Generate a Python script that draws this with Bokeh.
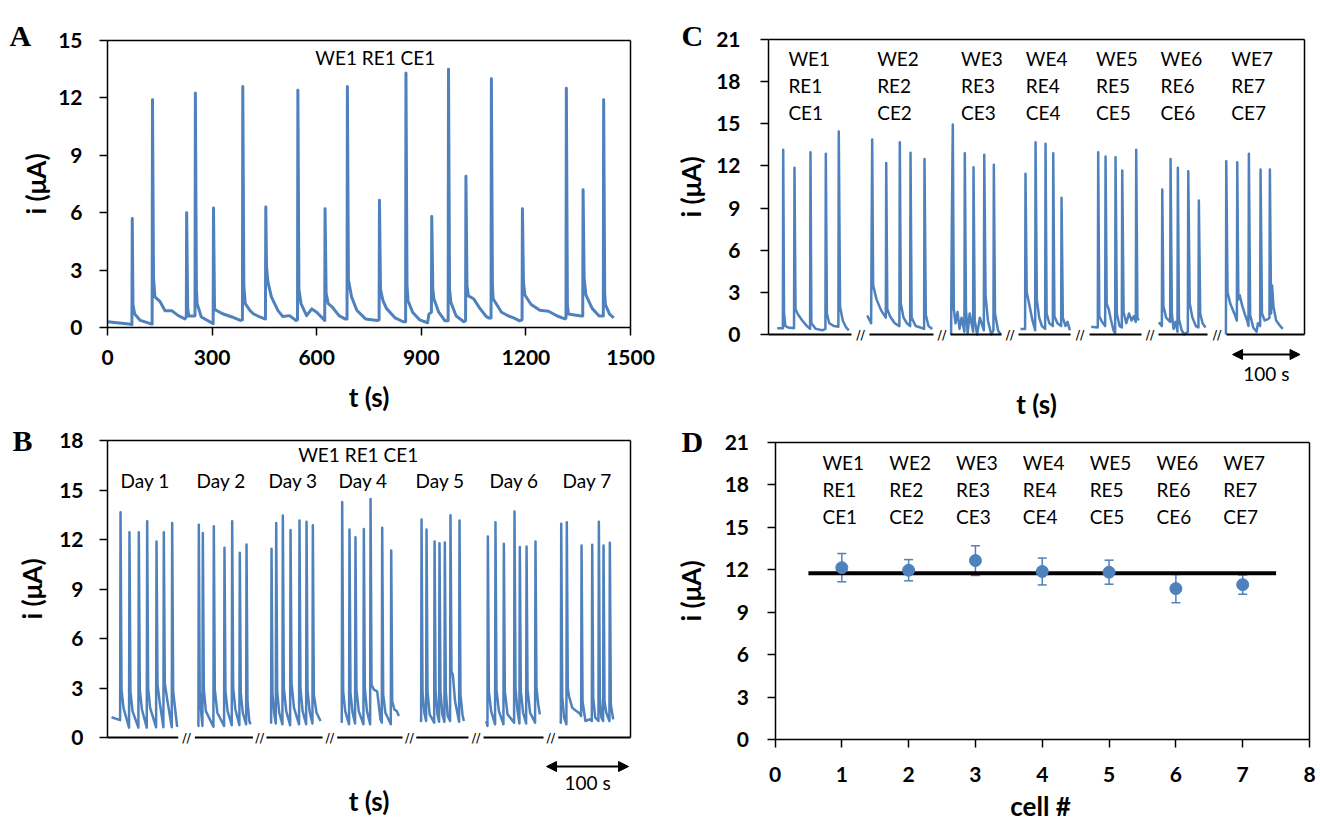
import math
from bokeh.plotting import figure
from bokeh.models import (Range1d, FixedTicker, LinearAxis, Arrow, NormalHead, Whisker, TeeHead,
                          ColumnDataSource)
from bokeh.layouts import row, column
from bokeh.embed import file_html
from bokeh.resources import INLINE
from bokeh.core.properties import value

BLUE = "#4f81bd"
FONT = "Lato"
SERIF = "Liberation Serif"

# ---------------- Panel A : single cell, continuous record ----------------
A_t = [0, 68, 70, 71, 73, 78, 94, 123, 128, 129, 132, 136, 151, 165, 184, 203, 222, 226, 227, 230, 233, 250,
       251, 252, 255, 257, 269, 303, 304, 307, 330, 357, 381, 387, 388, 391, 395, 409, 418, 437, 451,
       453, 454, 456, 460, 470, 489, 503, 522, 541, 545, 546, 549, 555, 571, 586, 600, 623, 624, 627, 633,
       645, 664, 681, 687, 688, 691, 700, 715, 740, 775, 779, 780, 783, 790, 800, 825, 848, 855, 856,
       859, 862, 875, 895, 918, 922, 929, 930, 933, 936, 950, 968, 977, 978, 981, 985, 1000, 1022,
       1027, 1028, 1031, 1035, 1050, 1068, 1085, 1093, 1100, 1101, 1104, 1106, 1130, 1150, 1165, 1182,
       1189, 1190, 1193, 1197, 1215, 1240, 1265, 1290, 1312, 1315, 1316, 1319, 1322, 1358, 1363, 1364,
       1367, 1372, 1390, 1410, 1422, 1423, 1426, 1428, 1440, 1452]
A_i = [0.30, 0.17, 0.15, 5.7, 1.2, 0.71, 0.37, 0.2, 0.18, 11.9, 2.6, 1.6, 1.35, 0.88, 0.88, 0.62, 0.45, 0.55, 6.0, 1.0,
       0.6, 0.6, 0.62, 12.25, 2.0, 1.25, 0.55, 0.2, 6.25, 0.95, 0.72, 0.55, 0.37, 0.4, 12.6, 2.2, 1.25, 0.88,
       0.72, 0.55, 0.45, 0.45, 6.3, 3.2, 2.4, 1.6, 0.88, 0.57, 0.62, 0.37, 0.4, 12.4, 2.0, 1.25, 0.62, 0.97,
       0.8, 0.37, 6.2, 1.8, 1.25, 1.06, 0.62, 0.45, 0.45, 12.6, 2.5, 1.6, 0.9, 0.45, 0.37, 0.4, 6.65, 2.0,
       1.4, 1.0, 0.5, 0.3, 0.3, 13.3, 2.2, 1.4, 0.8, 0.4, 0.25, 0.7, 0.8, 5.8, 2.0, 1.5, 0.8, 0.35, 0.35,
       13.5, 2.0, 1.3, 0.6, 0.3, 0.35, 7.9, 2.2, 1.65, 1.5, 1.0, 0.6, 0.5, 0.5, 13.0, 2.2, 1.5, 0.8,
       0.6, 0.5, 0.35, 0.4, 6.2, 2.4, 1.7, 1.2, 0.9, 0.85, 0.6, 0.45, 0.5, 12.5, 1.2, 0.7, 0.6, 0.6, 7.2,
       2.6, 1.7, 1.0, 0.6, 0.6, 11.9, 1.8, 1.2, 0.7, 0.5]

# ---------------- Panel B : same cell over 7 days (time axis broken) ----------------
day_names = ["Day 1", "Day 2", "Day 3", "Day 4", "Day 5", "Day 6", "Day 7"]
B_d1_t = [4.9, 15.4, 15.9, 17.1, 19.5, 26.3, 26.8, 28.0, 30.5, 37.7, 38.2, 39.4, 42.0, 47.9, 48.4, 49.6, 52.0,
          59.3, 59.8, 61.0, 63.5, 68.2, 68.7, 69.9, 72.5, 78.4, 78.9, 80.1, 83.0, 85.0]
B_d1_i = [1.23, 1.05, 13.65, 2.9, 1.8, 0.6, 12.44, 2.8, 1.6, 0.6, 12.44, 2.9, 1.7, 0.6, 13.1, 3.0, 1.8,
          0.62, 11.88, 3.2, 2.2, 0.62, 12.44, 3.3, 2.4, 0.62, 13.0, 2.8, 1.5, 0.65]
B_d2_t = [110.2, 110.9, 111.4, 112.5, 114.5, 115.8, 116.3, 117.5, 120.0, 129.2, 129.7, 130.9, 134.0, 142.2,
          142.7, 143.9, 146.5, 151.6, 152.1, 153.3, 156.0, 160.9, 161.4, 162.6, 165.0, 169.1, 169.6, 170.8,
          173.0, 174.5]
B_d2_i = [0.66, 0.7, 12.9, 2.8, 1.4, 0.7, 12.4, 2.9, 1.6, 0.65, 12.8, 2.9, 1.5, 0.7, 11.5, 2.8, 1.6, 0.75,
          13.1, 3.0, 1.7, 0.75, 11.2, 2.7, 1.5, 0.8, 11.7, 2.2, 1.0, 0.8]
B_d3_t = [198.9, 199.6, 200.1, 201.3, 203.5, 205.3, 205.8, 207.0, 209.5, 213.4, 213.9, 215.1, 218.0, 222.8,
          223.3, 224.5, 227.5, 233.7, 234.2, 235.4, 238.0, 242.3, 242.8, 244.0, 246.5, 250.0, 250.5, 251.7,
          255.0, 259.9]
B_d3_i = [0.85, 0.9, 11.44, 2.6, 1.4, 0.85, 13.0, 2.8, 1.5, 0.8, 13.45, 3.0, 1.6, 0.75, 12.58, 3.3, 1.8,
          0.8, 13.15, 3.0, 1.6, 0.8, 13.08, 2.9, 1.6, 0.85, 12.86, 2.6, 1.5, 1.0]
B_d4_t = [284.3, 285.8, 286.3, 287.5, 290.0, 294.7, 295.2, 296.4, 299.0, 302.0, 302.5, 303.7, 306.5, 312.2,
          312.7, 313.9, 316.5, 320.4, 320.9, 322.1, 325.0, 329.0, 333.0, 334.6, 335.1, 336.3, 339.0, 345.6,
          346.1, 347.3, 350.0, 353.0, 355.4]
B_d4_i = [0.95, 0.95, 14.27, 2.8, 1.6, 0.8, 12.6, 2.7, 1.5, 0.85, 12.13, 2.9, 1.6, 0.8, 12.64, 3.0, 1.6,
          0.8, 14.46, 3.2, 2.9, 2.8, 1.1, 0.9, 12.71, 2.6, 1.5, 0.8, 11.33, 2.2, 1.7, 1.6, 1.3]
B_d5_t = [381.0, 382.6, 383.1, 384.3, 386.5, 388.7, 389.2, 390.4, 393.0, 398.5, 399.0, 400.2, 402.5, 404.5,
          405.0, 406.2, 408.5, 411.0, 411.5, 412.7, 415.0, 417.9, 418.4, 419.6, 421.3, 424.0, 428.9, 429.4,
          430.6, 433.0, 434.7]
B_d5_i = [1.0, 1.0, 13.21, 2.7, 1.5, 1.0, 12.6, 2.8, 1.4, 0.9, 11.88, 2.8, 1.4, 0.95, 11.78, 2.8, 1.4, 0.95,
          11.82, 2.8, 1.3, 1.0, 13.47, 4.0, 3.8, 2.2, 0.95, 13.15, 2.6, 1.4, 1.0]
B_d6_t = [462.0, 463.5, 464.0, 465.2, 468.0, 472.8, 473.3, 474.5, 477.5, 483.0, 483.5, 484.7, 488.0, 496.0,
          496.5, 497.7, 500.0, 502.5, 503.0, 504.2, 507.0, 510.7, 511.2, 512.4, 515.5, 521.6, 522.1, 523.3,
          525.5, 527.4]
B_d6_i = [1.0, 0.7, 12.18, 2.8, 1.6, 0.8, 13.05, 2.9, 1.6, 0.8, 11.74, 2.8, 1.4, 0.9, 13.69, 3.0, 1.7, 0.85,
          11.54, 2.8, 1.5, 0.85, 11.58, 2.9, 1.5, 0.9, 11.88, 3.0, 2.0, 1.4]
B_d7_t = [552.6, 553.0, 553.5, 554.7, 557.0, 559.8, 560.3, 561.5, 563.0, 567.0, 572.0, 576.0, 577.8, 578.3,
          579.5, 583.0, 588.0, 590.8, 591.3, 592.5, 595.0, 598.9, 599.4, 600.6, 602.5, 604.6, 605.1, 606.3,
          608.5, 612.3, 612.8, 614.0, 616.9]
B_d7_i = [1.0, 0.9, 12.95, 2.5, 1.2, 0.8, 13.05, 3.0, 2.5, 1.8, 1.6, 1.45, 1.3, 11.64, 2.2, 1.0, 1.1, 1.0,
          11.68, 2.4, 1.2, 1.0, 13.08, 2.4, 1.2, 1.0, 11.64, 2.2, 1.5, 1.0, 11.8, 2.0, 1.1]
B_days_t = [B_d1_t, B_d2_t, B_d3_t, B_d4_t, B_d5_t, B_d6_t, B_d7_t]
B_days_i = [B_d1_i, B_d2_i, B_d3_i, B_d4_i, B_d5_i, B_d6_i, B_d7_i]

# ---------------- Panel C : seven cells (time axis broken) ----------------
C_w1_t = [12.9, 21.3, 21.8, 23.0, 25.0, 29.0, 37.8, 38.5, 40.0, 44.0, 50.0, 57.0, 61.6, 62.2, 63.5, 70.0, 80.0,
          84.3, 84.9, 86.5, 90.0, 97.0, 103.5, 104.1, 106.0, 110.0, 115.0, 119.0]
C_w1_i = [0.45, 0.45, 13.15, 1.5, 0.6, 0.5, 0.45, 11.87, 1.8, 1.4, 1.0, 0.6, 0.4, 12.98, 0.8, 0.4, 0.3,
          0.4, 12.86, 1.5, 0.8, 0.6, 0.55, 14.45, 2.0, 1.0, 0.5, 0.3]
C_w2_t = [146.2, 152.0, 153.6, 155.0, 160.0, 167.0, 173.8, 174.4, 176.0, 180.0, 187.0, 193.9, 194.5, 196.0,
          200.0, 205.0, 209.8, 210.4, 212.0, 218.0, 225.0, 230.5, 231.1, 233.0, 237.0, 242.5]
C_w2_i = [1.35, 0.8, 13.88, 3.5, 2.5, 1.7, 1.2, 12.2, 1.8, 1.3, 0.8, 0.6, 13.69, 2.2, 1.2, 0.8, 0.6, 12.93,
          1.2, 0.6, 0.5, 0.4, 12.5, 1.4, 0.6, 0.4]
C_w3_t = [270.5, 271.5, 273.0, 274.5, 277.0, 280.0, 283.0, 286.0, 290.2, 290.8, 292.5, 295.0, 298.0, 303.1,
          303.7, 305.5, 309.0, 313.0, 319.0, 319.6, 321.5, 325.0, 330.0, 333.2, 333.8, 335.5, 340.0, 343.7]
C_w3_i = [0.0, 7.4, 14.95, 1.8, 0.8, 1.6, 0.4, 1.2, 0.2, 12.9, 1.8, 0.1, 1.5, 0.2, 11.91, 1.0, 0.0, 1.2,
          0.3, 12.8, 2.8, 1.0, 0.0, 0.3, 12.08, 1.5, 0.3, 0.0]
C_w4_t = [373.3, 380.1, 380.7, 382.5, 386.0, 391.0, 395.0, 395.6, 397.5, 401.0, 405.0, 409.8, 410.4, 412.0,
          416.0, 421.2, 421.8, 423.5, 428.0, 433.5, 434.1, 436.0, 440.0, 443.0, 446.4]
C_w4_i = [0.4, 0.4, 11.44, 3.0, 2.2, 1.0, 0.3, 13.69, 2.5, 1.2, 0.6, 0.4, 13.57, 1.5, 0.8, 0.6, 12.91, 1.3,
          0.8, 0.6, 9.73, 1.2, 0.6, 0.9, 0.3]
C_w5_t = [478.1, 487.8, 488.4, 490.0, 494.0, 498.7, 499.3, 501.0, 504.0, 507.0, 511.0, 513.5, 514.1, 516.0,
          520.0, 523.4, 524.0, 526.0, 530.0, 534.0, 538.0, 541.0, 544.1, 544.7, 546.5, 548.6]
C_w5_i = [0.55, 0.5, 12.98, 1.3, 0.9, 0.6, 12.67, 2.2, 1.8, 1.1, 0.3, 0.1, 12.62, 1.5, 0.6, 0.5, 11.68, 1.6,
          0.8, 1.5, 1.0, 1.3, 0.9, 13.15, 1.2, 1.0]
C_w6_t = [578.2, 582.7, 583.3, 585.0, 589.0, 595.0, 595.6, 597.5, 600.0, 603.0, 605.8, 606.4, 608.0, 612.0,
          616.0, 621.2, 621.8, 624.0, 628.0, 633.0, 636.9, 637.5, 639.5, 643.0, 647.4]
C_w6_i = [0.86, 0.6, 10.32, 2.0, 1.2, 0.9, 12.5, 1.5, 0.4, 0.9, 0.2, 11.87, 1.1, 0.3, 0.0, 0.2, 11.63, 2.2,
          1.2, 0.6, 0.5, 9.54, 1.5, 0.8, 0.5]
C_w7_t = [677.6, 678.1, 680.0, 684.0, 690.0, 693.8, 694.4, 696.0, 698.0, 702.0, 706.0, 709.0, 711.0, 711.6,
          713.5, 718.0, 723.0, 725.0, 728.3, 728.9, 731.0, 735.0, 740.0, 742.1, 742.7, 744.5, 746.0, 748.0,
          752.0, 758.0, 761.9]
C_w7_i = [0.0, 12.34, 3.0, 2.2, 1.5, 1.0, 12.27, 2.5, 2.8, 2.0, 1.4, 1.0, 0.6, 12.86, 1.4, 0.5, 0.2, 0.8,
          0.6, 11.75, 1.5, 1.0, 1.1, 1.2, 11.75, 1.5, 3.49, 2.0, 1.0, 0.6, 0.4]
C_cells_t = [C_w1_t, C_w2_t, C_w3_t, C_w4_t, C_w5_t, C_w6_t, C_w7_t]
C_cells_i = [C_w1_i, C_w2_i, C_w3_i, C_w4_i, C_w5_i, C_w6_i, C_w7_i]

# ---------------- Panel D : peak current per cell ----------------
cells = [1, 2, 3, 4, 5, 6, 7]
D_mean = [12.15, 11.97, 12.65, 11.88, 11.83, 10.67, 10.95]
D_err = [1.0, 0.75, 1.05, 0.95, 0.85, 1.0, 0.68]
D_overall = 11.76

# broken-axis pieces (seconds of the compressed time axis)
B_axis_start = [0, 106.6, 193.9, 280.2, 376.7, 458.7, 549.8]
B_axis_end = [86.3, 177.4, 262.3, 359.9, 440.4, 531.9, 638]
C_axis_start = [0, 149.6, 269.6, 370.4, 475.6, 577.8, 678.5]
C_axis_end = [123, 244.4, 345.2, 447.4, 552.6, 650.4, 794]
SCALE_BAR_S = 100


class Panel:
    """A figure whose frame fills its canvas; the data box sits at given page-pixel edges."""

    def __init__(self, fx, fy, w, h, x0, x1, y0, y1, L, R, T, B):
        self.x0, self.y0, self.L, self.B = x0, y0, L, B
        self.sx = (R - L) / (x1 - x0)
        self.sy = (B - T) / (y1 - y0)
        self.xmax, self.ymax = x1, y1
        p = figure(width=w, height=h, x_range=Range1d(self.x(fx), self.x(fx + w)),
                   y_range=Range1d(self.y(fy + h), self.y(fy)), output_backend="svg",
                   toolbar_location=None, x_axis_location=None, y_axis_location=None,
                   min_border=0, title=None)
        p.grid.visible = False
        p.outline_line_color = None
        p.background_fill_color = "white"
        p.border_fill_color = "white"
        self.p = p

    def x(self, px):
        return self.x0 + (px - self.L) / self.sx

    def y(self, py):
        return self.y0 + (self.B - py) / self.sy

    def axis(self, side, ticks, standoff):
        ax = LinearAxis(fixed_location=0, ticker=FixedTicker(ticks=ticks),
                        bounds=(0, self.ymax if side == "left" else self.xmax),
                        major_label_text_font=FONT, major_label_text_font_style="bold",
                        major_label_text_font_size="21px", major_label_text_color="black",
                        axis_line_color="black", axis_line_width=1.5,
                        major_tick_line_color="black", major_tick_line_width=1.5,
                        major_tick_out=8, major_tick_in=0, minor_tick_line_color=None,
                        major_label_standoff=standoff)
        self.p.add_layout(ax, side)

    def box_top_right(self):
        self.p.segment(x0=[0, self.xmax], y0=[self.ymax, 0], x1=[self.xmax, self.xmax],
                       y1=[self.ymax, self.ymax], line_color="black", line_width=1.5)

    def txt(self, px, py, s, size, style="normal", font=FONT, align="center", baseline="middle", angle=0.0):
        self.p.text(x=[self.x(px)], y=[self.y(py)], text=[s], text_font=value(font), text_font_size=size,
                    text_font_style=style, text_align=align, text_baseline=baseline, angle=angle,
                    text_color="black")

    def letter(self, s, px, py):
        self.txt(px, py, s, "30px", style="bold", font=SERIF, align="left", baseline="alphabetic")

    def titles(self, xt, xpos, ypos_x):
        self.txt(xpos[0], xpos[1], xt, "26px", style="bold")
        self.txt(ypos_x[0], ypos_x[1], "i (μA)", "26px", style="bold", angle=math.pi / 2)

    def broken_axis(self, starts, ends):
        self.p.segment(x0=starts, y0=[0] * len(starts), x1=ends, y1=[0] * len(ends),
                       line_color="black", line_width=2)
        gaps = [(e + s) / 2 for e, s in zip(ends[:-1], starts[1:])]
        self.p.text(x=gaps, y=[0] * len(gaps), text=["//"] * len(gaps), text_font=value("DejaVu Sans"),
                    text_font_size="13px", text_align="center", text_baseline="middle", text_color="black")

    def scale_bar(self, x_start, py_bar, py_label):
        yb = self.y(py_bar)
        self.p.add_layout(Arrow(start=NormalHead(size=10, fill_color="black", line_color="black"),
                                end=NormalHead(size=10, fill_color="black", line_color="black"),
                                x_start=x_start, y_start=yb, x_end=x_start + SCALE_BAR_S, y_end=yb,
                                line_color="black", line_width=2))
        self.p.text(x=[x_start + SCALE_BAR_S / 2], y=[self.y(py_label)], text=[f"{SCALE_BAR_S} s"],
                    text_font=value(FONT), text_font_size="19px", text_align="center",
                    text_baseline="middle", text_color="black")


# ================= A =================
A = Panel(0, 0, 660, 418, 0, 1500, 0, 15, 107, 630, 40, 327)
pA = A.p
pA.line(A_t, A_i, line_color=BLUE, line_width=3, line_join="round")
A.box_top_right()
A.axis("below", [0, 300, 600, 900, 1200, 1500], 14)
A.axis("left", [0, 3, 6, 9, 12, 15], 17)
A.titles("t (s)", (368.5, 396), (35, 183.5))
pA.text(x=[768], y=[14.1], text=["WE1 RE1 CE1"], text_font=value(FONT), text_font_size="19px",
        text_align="center", text_baseline="middle", text_color="black")
A.letter("A", 9, 35)

# ================= B =================
B = Panel(0, 418, 660, 402, 0, 638, 0, 18, 107, 630, 440, 737)
pB = B.p
for tt, ii in zip(B_days_t, B_days_i):
    pB.line(tt, ii, line_color=BLUE, line_width=2.5, line_join="round")
B.box_top_right()
B.axis("left", [0, 3, 6, 9, 12, 15, 18], 16)
B.broken_axis(B_axis_start, B_axis_end)
B.scale_bar(535.6, 766, 782)
B.titles("t (s)", (368.5, 800), (31, 588.5))
pB.text(x=[305.8], y=[17.15], text=["WE1 RE1 CE1"], text_font=value(FONT), text_font_size="19px",
        text_align="center", text_baseline="middle", text_color="black")
B_day_x = [15.9, 108.6, 196.4, 281.8, 375.7, 466.0, 555.1]
pB.text(x=B_day_x, y=[15.59] * 7, text=day_names, text_font=value(FONT), text_font_size="19px",
        text_align="left", text_baseline="middle", text_color="black")
B.letter("B", 12, 440)

# ================= C =================
C = Panel(660, 0, 660, 418, 0, 794, 0, 21, 768, 1304, 39, 334)
pC = C.p
for tt, ii in zip(C_cells_t, C_cells_i):
    pC.line(tt, ii, line_color=BLUE, line_width=2.5, line_join="round")
C.box_top_right()
C.axis("left", [0, 3, 6, 9, 12, 15, 18, 21], 20)
C.broken_axis(C_axis_start, C_axis_end)
C.scale_bar(687.4, 354, 373)
C.titles("t (s)", (1036, 403), (690.5, 186.5))
C_lab_x = [29.5, 161.0, 285.2, 381.2, 485.3, 580.7, 685.5]
for prefix, yy in zip(["WE", "RE", "CE"], [19.65, 17.72, 15.77]):
    pC.text(x=C_lab_x, y=[yy] * 7, text=[f"{prefix}{n}" for n in cells], text_font=value(FONT),
            text_font_size="19px", text_align="left", text_baseline="middle", text_color="black")
C.letter("C", 681, 35)

# ================= D =================
D = Panel(660, 418, 660, 402, 0, 8, 0, 21, 774.5, 1309, 442, 739)
pD = D.p
srcD = ColumnDataSource(dict(x=cells, y=D_mean, lo=[m - e for m, e in zip(D_mean, D_err)],
                             hi=[m + e for m, e in zip(D_mean, D_err)]))
pD.add_layout(Whisker(base="x", upper="hi", lower="lo", source=srcD, line_color=BLUE, line_width=1.5,
                      upper_head=TeeHead(size=9, line_color=BLUE, line_width=1.5),
                      lower_head=TeeHead(size=9, line_color=BLUE, line_width=1.5), level="underlay"))
pD.line([0.5, 7.5], [D_overall, D_overall], line_color="black", line_width=4)
pD.scatter("x", "y", source=srcD, size=12, fill_color=BLUE, line_color=BLUE)
D.box_top_right()
D.axis("below", list(range(0, 9)), 19)
D.axis("left", [0, 3, 6, 9, 12, 15, 18, 21], 18)
D.txt(1040, 805, "cell #", "26px", style="bold")
D.txt(690.5, 590.5, "i (μA)", "26px", style="bold", angle=math.pi / 2)
D_lab_x = [c - 0.29 for c in cells]
for prefix, yy in zip(["WE", "RE", "CE"], [19.61, 17.69, 15.78]):
    pD.text(x=D_lab_x, y=[yy] * 7, text=[f"{prefix}{n}" for n in cells], text_font=value(FONT),
            text_font_size="19px", text_align="left", text_baseline="middle", text_color="black")
D.letter("D", 681, 441)

layout = row(column(pA, pB), column(pC, pD))
open("out.html", "w").write(file_html(layout, INLINE))
